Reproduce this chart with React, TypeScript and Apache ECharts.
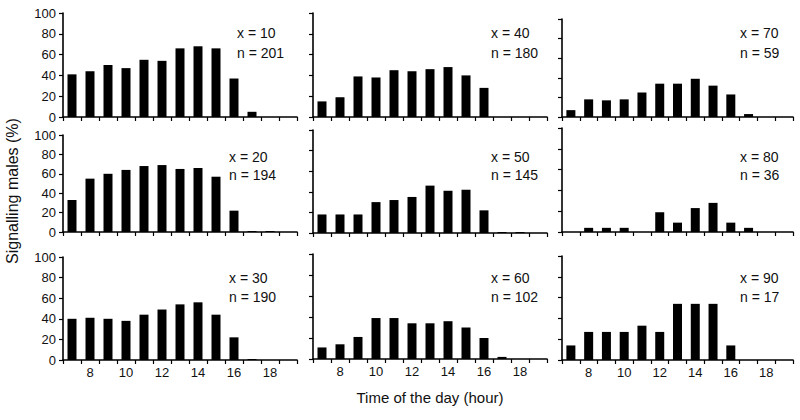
import React, { useEffect, useRef } from "react";
import * as echarts from "echarts";

const hours = ["7", "8", "9", "10", "11", "12", "13", "14", "15", "16", "17", "18", "19"];
const yTicks = [0, 20, 40, 60, 80, 100];

const s10 = [41, 44, 50, 47, 55, 54, 66, 68, 66, 37, 5, 0, 0];
const s20 = [33, 55, 60, 64, 68, 69, 65, 66, 57, 22, 1, 1, 0];
const s30 = [40, 41, 40, 38, 44, 49, 54, 56, 44, 22, 1, 0, 0];
const s40 = [15, 19, 39, 38, 45, 44, 46, 48, 40, 28, 0, 0, 0];
const s50 = [18, 18, 18, 30, 32, 35, 46, 41, 42, 22, 1, 1, 0];
const s60 = [11, 14, 21, 39, 39, 34, 34, 36, 30, 20, 2, 0, 0];
const s70 = [7, 18, 17, 18, 25, 34, 34, 39, 32, 23, 3, 0, 0];
const s80 = [0, 4, 4, 4, 0, 19, 9, 23, 28, 9, 4, 0, 0];
const s90 = [14, 27, 27, 27, 33, 27, 54, 54, 54, 14, 0, 0, 0];

const xLabels = ["x = 10", "x = 40", "x = 70", "x = 20", "x = 50", "x = 80", "x = 30", "x = 60", "x = 90"];
const nLabels = ["n = 201", "n = 180", "n = 59", "n = 194", "n = 145", "n = 36", "n = 190", "n = 102", "n = 17"];
const seriesData = [s10, s40, s70, s20, s50, s80, s30, s60, s90];

// layout: [left, top, width, height] per panel (row-major)
const layout = [
  [63, 13, 234, 104], [313, 13, 234, 104], [562, 19, 231, 98],
  [63, 135, 234, 97], [313, 130, 234, 103], [562, 128, 231, 104],
  [63, 257, 234, 103], [313, 254, 234, 105], [562, 256, 231, 104],
];
const textLeft = [237, 491, 740, 229, 491, 740, 229, 491, 740];
const textRowY = [[33, 53], [157, 175], [278, 297]];

const FONT = "'Liberation Sans', Arial, sans-serif";

export default function App() {
  const ref = useRef<HTMLDivElement>(null);
  useEffect(() => {
    if (!ref.current) return;
    const chart = echarts.init(ref.current, null, { renderer: "svg" });
    const grids: any[] = [];
    const xAxes: any[] = [];
    const yAxes: any[] = [];
    const series: any[] = [];
    const graphics: any[] = [];
    layout.forEach((r, i) => {
      const col = i % 3;
      const row = Math.floor(i / 3);
      grids.push({ left: r[0], top: r[1], width: r[2], height: r[3] });
      xAxes.push({
        type: "category",
        gridIndex: i,
        data: hours,
        boundaryGap: true,
        axisLine: { show: true, lineStyle: { color: "#000", width: 1.6 } },
        axisTick: { show: true, interval: 0, length: 4, inside: false, lineStyle: { color: "#000", width: 1.2 } },
        axisLabel: {
          show: row === 2,
          interval: (_idx: number, val: string) => Number(val) % 2 === 0,
          margin: 6,
          color: "#111",
          fontSize: 13,
          fontFamily: FONT,
        },
        splitLine: { show: false },
      });
      yAxes.push({
        type: "value",
        gridIndex: i,
        min: yTicks[0],
        max: yTicks[yTicks.length - 1],
        interval: 20,
        axisLine: { show: true, lineStyle: { color: "#000", width: 1.6 } },
        axisTick: { show: true, length: 4, inside: false, lineStyle: { color: "#000", width: 1.2 } },
        axisLabel: { show: col === 0, margin: 7, color: "#111", fontSize: 13, fontFamily: FONT },
        splitLine: { show: false },
      });
      series.push({
        type: "bar",
        xAxisIndex: i,
        yAxisIndex: i,
        data: seriesData[i],
        barWidth: 9,
        itemStyle: { color: "#000" },
        silent: true,
      });
      graphics.push({
        type: "text",
        x: textLeft[i],
        y: textRowY[row][0],
        style: { text: xLabels[i], fill: "#111", fontSize: 14, fontFamily: FONT, verticalAlign: "middle" },
      });
      graphics.push({
        type: "text",
        x: textLeft[i],
        y: textRowY[row][1],
        style: { text: nLabels[i], fill: "#111", fontSize: 14, fontFamily: FONT, verticalAlign: "middle" },
      });
    });
    graphics.push({
      type: "text",
      x: 12,
      y: 191,
      rotation: Math.PI / 2,
      style: {
        text: "Signalling males (%)",
        fill: "#111",
        fontSize: 16,
        fontFamily: FONT,
        align: "center",
        verticalAlign: "middle",
      },
    });
    graphics.push({
      type: "text",
      x: 430,
      y: 397,
      style: {
        text: "Time of the day (hour)",
        fill: "#111",
        fontSize: 15,
        fontFamily: FONT,
        align: "center",
        verticalAlign: "middle",
      },
    });
    chart.setOption({
      animation: false,
      backgroundColor: "#fff",
      grid: grids,
      xAxis: xAxes,
      yAxis: yAxes,
      series,
      graphic: graphics,
    });
    return () => chart.dispose();
  }, []);
  return (
    <div
      ref={ref}
      style={{ position: "fixed", left: 0, top: 0, width: 800, height: 420 }}
    />
  );
}
